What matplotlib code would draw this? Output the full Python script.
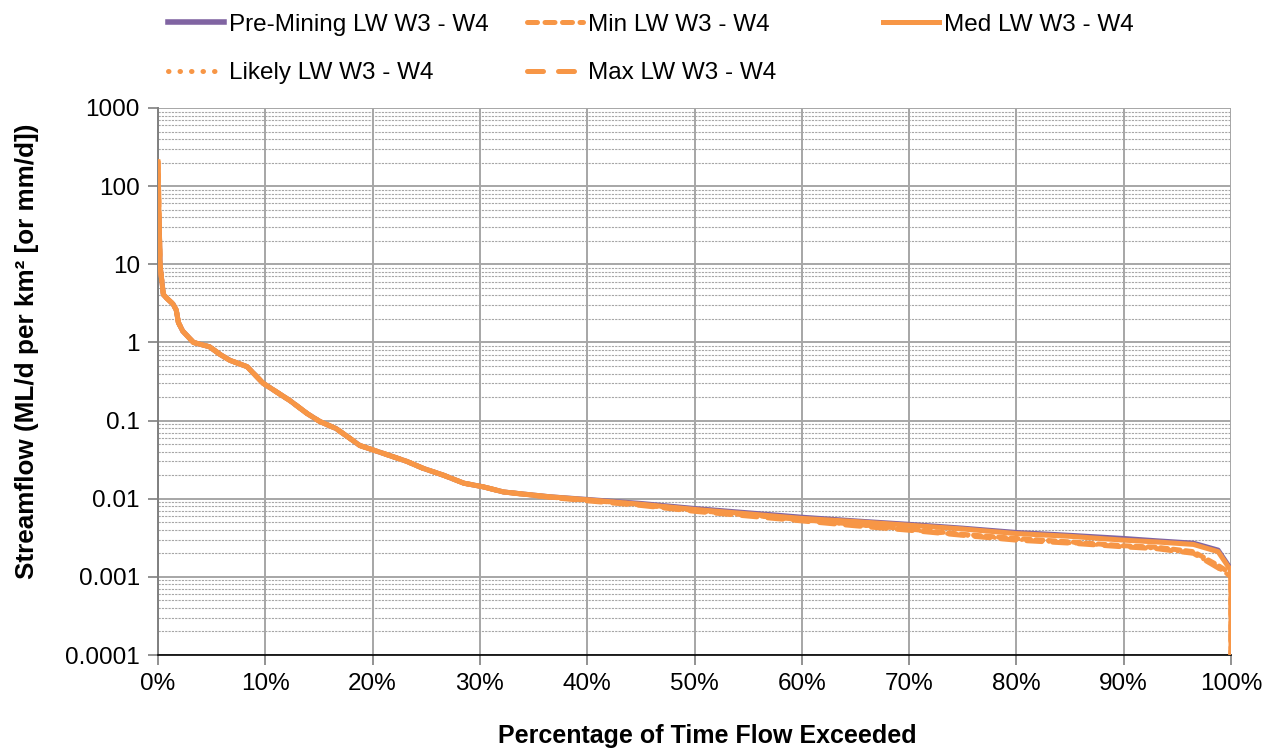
import matplotlib
matplotlib.use('Agg')
import matplotlib.pyplot as plt
from matplotlib.lines import Line2D
from matplotlib.ticker import LogLocator, FixedLocator, FuncFormatter, NullFormatter

# flow duration curves, % of time exceeded vs streamflow
pct = [0, 0.1, 0.2, 0.5, 0.8, 1.4, 1.7, 1.9, 2.3, 3.3, 4.8, 5.8, 6.7, 8.3, 9.8,
       12.3, 13.9, 15.1, 16.6, 17.9, 18.8, 21.0, 23.2, 24.7, 26.6, 28.5, 30.3,
       32.2, 36.5, 40, 45, 50, 55, 60, 65, 70, 75, 80, 85, 90, 93, 96.5, 98.8,
       100, 100]

pre_mining = [45, 38, 9.4, 4.1, 3.7, 3.1, 2.6, 1.8, 1.4, 1.0, 0.88, 0.7, 0.59, 0.49, 0.30,
              0.18, 0.123, 0.097, 0.079, 0.059, 0.048, 0.038, 0.030, 0.0245, 0.020, 0.0158, 0.0142,
              0.0122, 0.0106, 0.0098, 0.0087, 0.0075, 0.0066, 0.0058, 0.0052, 0.0047, 0.0042,
              0.0037, 0.0034, 0.0031, 0.0029, 0.0027, 0.0022, 0.00125, 0.0012]

med = [205, 40, 9.4, 4.1, 3.7, 3.1, 2.6, 1.8, 1.4, 1.0, 0.88, 0.7, 0.59, 0.49, 0.30,
       0.18, 0.123, 0.097, 0.079, 0.059, 0.048, 0.038, 0.030, 0.0245, 0.020, 0.0158, 0.0142,
       0.0122, 0.0106, 0.0097, 0.0085, 0.0073, 0.0064, 0.0056, 0.0051, 0.00458, 0.0041,
       0.00358, 0.0033, 0.00295, 0.0028, 0.0026, 0.0021, 0.0012, 0.0001]

min_lw = [205, 40, 9.4, 4.1, 3.7, 3.1, 2.6, 1.8, 1.4, 1.0, 0.88, 0.7, 0.59, 0.49, 0.30,
          0.18, 0.123, 0.097, 0.079, 0.059, 0.048, 0.038, 0.030, 0.0245, 0.020, 0.0158, 0.0142,
          0.0122, 0.0105, 0.0096, 0.0084, 0.0071, 0.0062, 0.0054, 0.0047, 0.0041, 0.0035,
          0.0031, 0.0028, 0.0025, 0.0024, 0.0021, 0.0014, 0.0011, 0.0001]

likely = [205, 40, 9.4, 4.1, 3.7, 3.1, 2.6, 1.8, 1.4, 1.0, 0.88, 0.7, 0.59, 0.49, 0.30,
          0.18, 0.123, 0.097, 0.079, 0.059, 0.048, 0.038, 0.030, 0.0245, 0.020, 0.0158, 0.0142,
          0.0122, 0.0105, 0.0095, 0.0083, 0.0070, 0.0061, 0.0053, 0.0046, 0.0040, 0.0034,
          0.00300, 0.0027, 0.00245, 0.0023, 0.0020, 0.0013, 0.0010, 0.0001]

max_lw = [205, 40, 9.4, 4.1, 3.7, 3.1, 2.6, 1.8, 1.4, 1.0, 0.88, 0.7, 0.59, 0.49, 0.30,
          0.18, 0.123, 0.097, 0.079, 0.059, 0.048, 0.038, 0.030, 0.0245, 0.020, 0.0158, 0.0142,
          0.0122, 0.0104, 0.0094, 0.0082, 0.0069, 0.0060, 0.0052, 0.0045, 0.00395, 0.0034,
          0.00295, 0.0027, 0.00242, 0.0023, 0.0020, 0.0013, 0.0010, 0.0001]

PURPLE = '#8064A2'
ORANGE = '#F79646'

plt.rcParams['font.family'] = ['Liberation Sans', 'DejaVu Sans']
plt.rcParams['font.size'] = 17.5

fig = plt.figure(figsize=(12.73, 7.51), dpi=100)
ax = fig.add_axes([158 / 1273, 1 - 655 / 751, (1231 - 158) / 1273, (655 - 108) / 751])

lw = 3.6
ax.plot(pct, pre_mining, color=PURPLE, lw=lw, solid_joinstyle='round', zorder=3)
ax.plot(pct, max_lw, color=ORANGE, lw=lw, dashes=(3.0, 2.2), dash_capstyle='round', zorder=4)
ax.plot(pct, likely, color=ORANGE, lw=lw * 0.8, dashes=(0.1, 1.6), dash_capstyle='round', zorder=4)
ax.plot(pct, min_lw, color=ORANGE, lw=lw, dashes=(1.4, 1.1), dash_capstyle='round', zorder=4)
ax.plot(pct, med, color=ORANGE, lw=lw, solid_joinstyle='round', zorder=5)

ax.set_yscale('log')
ax.set_ylim(1e-4, 1e3)
ax.set_xlim(0, 100)

ax.xaxis.set_major_locator(FixedLocator(range(0, 101, 10)))
ax.xaxis.set_major_formatter(FuncFormatter(lambda v, p: f'{v:.0f}%'))
ax.yaxis.set_major_locator(LogLocator(base=10, numticks=20))
ax.yaxis.set_major_formatter(FuncFormatter(lambda v, p: f'{v:g}'))
ax.yaxis.set_minor_locator(LogLocator(base=10, subs=range(2, 10), numticks=20))
ax.yaxis.set_minor_formatter(NullFormatter())

ax.grid(which='major', axis='both', color='#a6a6a6', lw=1.4, zorder=1)
ax.grid(which='minor', axis='y', color='#a6a6a6', lw=0.8, ls=(0, (2, 1)), zorder=1)
ax.set_axisbelow(True)

for side in ('top', 'right'):
    ax.spines[side].set_visible(False)
ax.spines['left'].set_color('#7f7f7f')
ax.spines['left'].set_linewidth(1.4)
ax.spines['bottom'].set_color('black')
ax.spines['bottom'].set_linewidth(1.2)
ax.tick_params(axis='both', which='major', direction='out', length=7, width=1.2,
               colors='#7f7f7f', labelcolor='black', labelsize=17.5, pad=6)
ax.tick_params(axis='y', which='minor', length=0)

ax.set_ylabel('Streamflow (ML/d per km² [or mm/d])', fontweight='bold', fontsize=18.8, labelpad=19)
ax.yaxis.label.set_y(0.556)
ax.set_xlabel('Percentage of Time Flow Exceeded', fontweight='bold', fontsize=18, labelpad=21)
ax.xaxis.label.set_x(0.512)

# legend laid out in three equal columns above the plot
def handle(**kw):
    return Line2D([], [], color=ORANGE, lw=3.6, dash_capstyle='round', **kw)

columns = [
    ([Line2D([], [], color=PURPLE, lw=4), handle(ls=(0, (0.1, 2.2)))],
     ['Pre-Mining LW W3 - W4', 'Likely LW W3 - W4'], 168),
    ([handle(dashes=(2.0, 1.5)), handle(dashes=(3.2, 3.0))],
     ['Min LW W3 - W4', 'Max LW W3 - W4'], 527),
    ([handle()], ['Med LW W3 - W4'], 883),
]
for hs, labels, x0 in columns:
    fig.legend(hs, labels, loc='upper left', bbox_to_anchor=(x0 / 1273, 0.982),
               frameon=False, fontsize=17.5, handlelength=2.3, handletextpad=0.2,
               labelspacing=1.1, borderpad=0, borderaxespad=0)

fig.savefig('out.png', dpi=100)
